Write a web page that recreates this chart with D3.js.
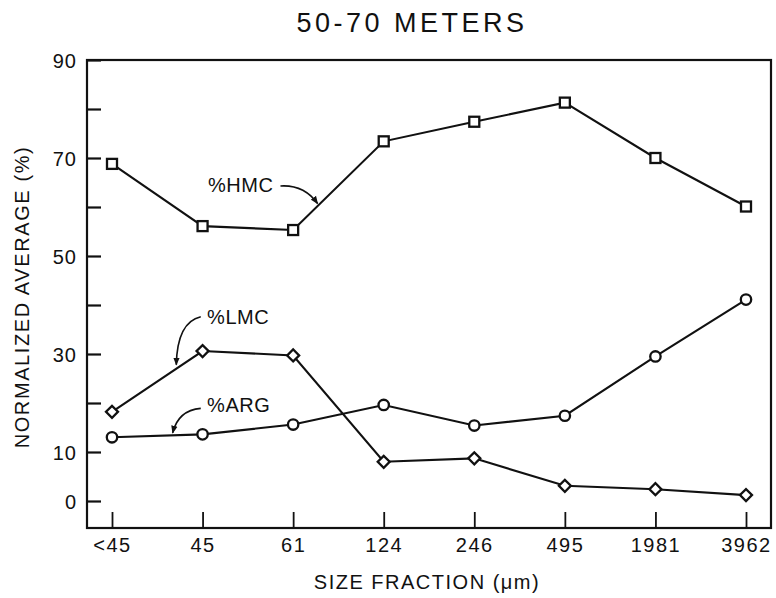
<!DOCTYPE html>
<html>
<head>
<meta charset="utf-8">
<script src="https://cdn.jsdelivr.net/npm/d3@7"></script>
<style>
  body { margin: 0; background: #fff; }
  text { font-family: "Liberation Sans", Arial, sans-serif; fill: #111; }
</style>
</head>
<body>
<div id="chart"></div>
<script>
// data
var categories = ["<45", "45", "61", "124", "246", "495", "1981", "3962"];
var hmc = [68.8, 56.1, 55.3, 73.4, 77.4, 81.3, 70.0, 60.1];
var lmc = [18.2, 30.6, 29.7, 8.0, 8.7, 3.1, 2.4, 1.2];
var arg = [13.0, 13.6, 15.6, 19.6, 15.4, 17.4, 29.5, 41.1];
var yTickLabels = [0, 10, 30, 50, 70, 90];
var yTickMinor = [20, 40, 60, 80];

// magic numbers
var margin = {top: 60, bottom: 70, left: 87, right: 5},
	width = 776 - margin.left - margin.right,
	height = 598 - margin.top - margin.bottom;

var svg = d3.select("#chart").append("svg")
		.attr("width", 776)
		.attr("height", 598)
	.append("g")
		.attr("transform", "translate(" + margin.left + ", " + margin.top + ")");

var xScale = d3.scalePoint()
		.domain(categories)
		.range([25, 659]);

var yScale = d3.scaleLinear()
		.domain([0, 90])
		.range([441, 0]);

// fractional category index -> px, for annotation placement
function xAt(i) { return xScale(categories[0]) + i * xScale.step(); }

// frame
svg.append("rect")
		.attr("x", 0)
		.attr("y", 0)
		.attr("width", width)
		.attr("height", height)
		.style("fill", "none")
		.style("stroke", "#111")
		.style("stroke-width", 2.2);

// y axis ticks (inward) and labels
var yAxis = d3.axisLeft(yScale)
		.tickValues(yTickLabels.concat(yTickMinor))
		.tickSize(-14)
		.tickPadding(24)
		.tickFormat(function(d) { return yTickLabels.indexOf(d) >= 0 ? d : ""; });

var gy = svg.append("g").call(yAxis);
gy.select(".domain").remove();
gy.selectAll(".tick line").style("stroke", "#111").style("stroke-width", 2.2);
gy.selectAll(".tick text")
		.style("font-size", "20px")
		.style("font-family", "'Liberation Sans', Arial, sans-serif")
		.style("letter-spacing", "1px")
		.attr("x", -10)
		.attr("dy", "0.36em");

// x axis ticks (inward) and labels
var xAxis = d3.axisBottom(xScale)
		.tickSize(-16)
		.tickPadding(26);

var gx = svg.append("g")
		.attr("transform", "translate(0," + height + ")")
		.call(xAxis);
gx.select(".domain").remove();
gx.selectAll(".tick line").style("stroke", "#111").style("stroke-width", 1.8);
gx.selectAll(".tick text")
		.style("font-size", "20px")
		.style("font-family", "'Liberation Sans', Arial, sans-serif")
		.attr("y", 10)
		.attr("dy", "0.71em")
		.style("letter-spacing", "1.5px");

// lines
var line = d3.line()
		.x(function(d, i) { return xScale(categories[i]); })
		.y(function(d) { return yScale(d); });

[hmc, lmc, arg].forEach(function(s) {
	svg.append("path")
			.datum(s)
			.attr("d", line)
			.style("fill", "none")
			.style("stroke", "#111")
			.style("stroke-width", 2.1);
});

// markers
svg.selectAll(".sq").data(hmc).enter().append("rect")
		.attr("x", function(d, i) { return xScale(categories[i]) - 5; })
		.attr("y", function(d) { return yScale(d) - 5; })
		.attr("width", 10)
		.attr("height", 10)
		.style("fill", "#fff")
		.style("stroke", "#111")
		.style("stroke-width", 2.3);

svg.selectAll(".dm").data(lmc).enter().append("path")
		.attr("d", d3.symbol().type(d3.symbolSquare).size(72))
		.attr("transform", function(d, i) {
			return "translate(" + xScale(categories[i]) + "," + yScale(d) + ") rotate(45)";
		})
		.style("fill", "#fff")
		.style("stroke", "#111")
		.style("stroke-width", 2.3);

svg.selectAll(".ci").data(arg).enter().append("circle")
		.attr("cx", function(d, i) { return xScale(categories[i]); })
		.attr("cy", function(d) { return yScale(d); })
		.attr("r", 5.2)
		.style("fill", "#fff")
		.style("stroke", "#111")
		.style("stroke-width", 2.3);

// arrowheads
svg.append("defs").append("marker")
		.attr("id", "arrow")
		.attr("viewBox", "0 0 10 10")
		.attr("refX", 9)
		.attr("refY", 5)
		.attr("markerWidth", 8)
		.attr("markerHeight", 8)
		.attr("markerUnits", "userSpaceOnUse")
		.attr("orient", "auto")
	.append("path")
		.attr("d", "M0,1 L10,5 L0,9 Z")
		.style("fill", "#111");

// annotations: label position and curved arrow, in data space
var notes = [
	{text: "%HMC", tx: 1.06, ty: 64.5, from: [1.86, 64.3], ctrl: [2.12, 64.6], to: [2.27, 60.7]},
	{text: "%LMC", tx: 1.05, ty: 37.5, from: [0.98, 37.6], ctrl: [0.72, 36.5], to: [0.71, 27.8]},
	{text: "%ARG", tx: 1.05, ty: 19.6, from: [0.98, 18.9], ctrl: [0.73, 18.5], to: [0.67, 13.9]}
];

notes.forEach(function(n) {
	svg.append("text")
			.attr("x", xAt(n.tx))
			.attr("y", yScale(n.ty))
			.attr("dy", "0.36em")
			.style("font-size", "20px")
			.style("letter-spacing", "0.5px")
			.text(n.text);

	var p = d3.path();
	p.moveTo(xAt(n.from[0]), yScale(n.from[1]));
	p.quadraticCurveTo(xAt(n.ctrl[0]), yScale(n.ctrl[1]), xAt(n.to[0]), yScale(n.to[1]));
	svg.append("path")
			.attr("d", p.toString())
			.style("fill", "none")
			.style("stroke", "#111")
			.style("stroke-width", 1.6)
			.attr("marker-end", "url(#arrow)");
});

// titles
svg.append("text")
		.attr("x", 412 - margin.left)
		.attr("y", 32 - margin.top)
		.attr("text-anchor", "middle")
		.style("font-size", "27px")
		.style("letter-spacing", "3.5px")
		.text("50-70 METERS");

svg.append("text")
		.attr("x", 427 - margin.left)
		.attr("y", 589 - margin.top)
		.attr("text-anchor", "middle")
		.style("font-size", "20px")
		.style("letter-spacing", "1.5px")
		.text("SIZE FRACTION (\u03bcm)");

svg.append("text")
		.attr("transform", "translate(" + (29 - margin.left) + "," + (297 - margin.top) + ") rotate(-90)")
		.attr("text-anchor", "middle")
		.style("font-size", "20px")
		.style("letter-spacing", "1.6px")
		.text("NORMALIZED AVERAGE (%)");
</script>
</body>
</html>
